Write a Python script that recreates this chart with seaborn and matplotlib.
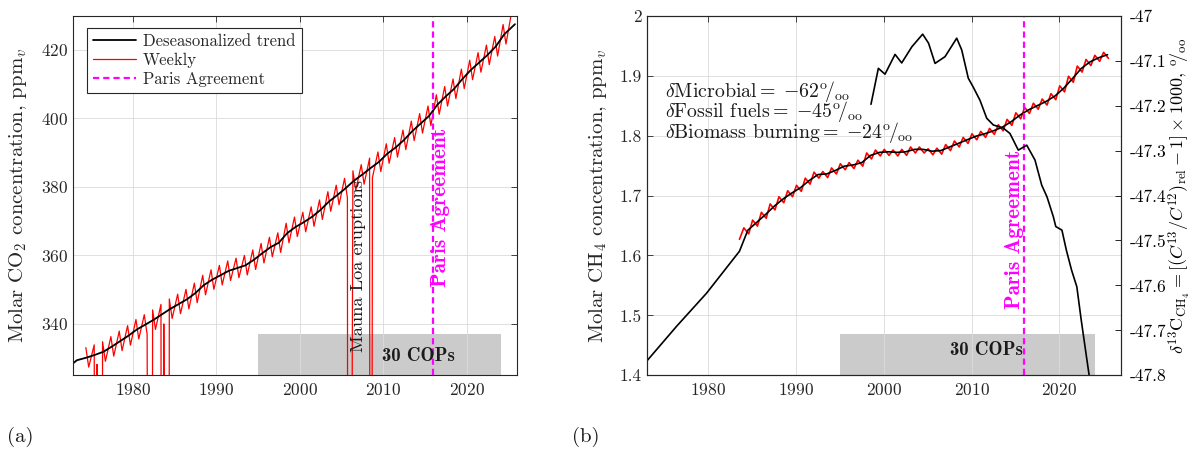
import numpy as np
import pandas as pd
import matplotlib
matplotlib.use("Agg")
import matplotlib.pyplot as plt
import seaborn as sns
from matplotlib.lines import Line2D

# ---------------- data: panel (a) CO2 ----------------
co2_trend_years = [1972.85, 1973.3, 1974.5, 1975.5, 1976.5, 1977.5, 1978.5, 1979.5, 1980.5,
                   1981.5, 1982.5, 1983.5, 1984.5, 1985.5, 1986.5, 1987.5, 1988.5, 1989.5,
                   1990.5, 1991.5, 1992.5, 1993.5, 1994.5, 1995.5, 1996.5, 1997.5, 1998.5,
                   1999.5, 2000.5, 2001.5, 2002.5, 2003.5, 2004.5, 2005.5, 2006.5, 2007.5,
                   2008.5, 2009.5, 2010.5, 2011.5, 2012.5, 2013.5, 2014.5, 2015.5, 2016.5,
                   2017.5, 2018.5, 2019.5, 2020.5, 2021.5, 2022.5, 2023.5, 2024.5, 2025.8]
co2_trend_ppm = [328.5, 329.4, 330.2, 331.0, 331.9, 333.4, 335.0, 336.6, 338.4,
                 339.8, 341.2, 342.8, 344.4, 345.8, 347.2, 349.0, 351.3, 352.9,
                 354.2, 355.5, 356.3, 357.1, 358.7, 360.6, 362.4, 363.7, 366.5,
                 368.3, 369.7, 371.3, 373.3, 375.7, 377.6, 379.6, 381.8, 383.6,
                 385.5, 387.3, 389.7, 391.5, 393.7, 396.3, 398.5, 400.7, 404.0,
                 406.4, 408.6, 411.5, 414.1, 416.3, 418.5, 421.0, 424.5, 427.5]

# weekly record: yearly maximum (May) and minimum (Sep/Oct)
co2_cycle_years = list(range(1974, 2026))
co2_peak_ppm = [333.1, 333.9, 334.8, 336.3, 337.9, 339.5, 341.3, 342.7, 344.1, 345.7,
                347.3, 348.7, 350.1, 351.9, 354.2, 355.8, 357.1, 358.4, 359.2, 360.0,
                361.6, 363.5, 365.3, 366.6, 369.4, 371.2, 372.6, 374.2, 376.2, 378.6,
                380.5, 382.5, 384.7, 386.5, 388.4, 390.2, 392.6, 394.4, 396.6, 399.2,
                401.4, 403.6, 406.9, 409.3, 411.5, 414.4, 417.0, 419.2, 421.4, 423.9,
                427.4, 430.8]
co2_trough_ppm = [327.4, 328.2, 329.1, 330.6, 332.2, 333.8, 335.6, 337.0, 338.4, 340.0,
                  341.6, 343.0, 344.4, 346.2, 348.5, 350.1, 351.4, 352.7, 353.5, 354.3,
                  355.9, 357.8, 359.6, 360.9, 363.7, 365.5, 366.9, 368.5, 370.5, 372.9,
                  374.8, 376.8, 379.0, 380.8, 382.7, 384.5, 386.9, 388.7, 390.9, 393.5,
                  395.7, 397.9, 401.2, 403.6, 405.8, 408.7, 411.3, 413.5, 415.7, 418.2,
                  421.7]
# flagged (missing) weekly values recorded as zero
co2_gap_years = [1975.68, 1975.82, 1976.33, 1982.15, 1983.55, 1984.25, 2005.85, 2008.5]
co2_gap_ppm = [0.0, 0.0, 0.0, 0.0, 0.0, 0.0, 0.0, 0.0]

paris_year = 2016.0
cop_first, cop_last = 1995.0, 2024.1

# ---------------- data: panel (b) CH4 ----------------
ch4_early_years = [1973.0, 1976.4, 1979.8, 1983.55]
ch4_early_ppm = [1.424, 1.482, 1.537, 1.607]
ch4_years = list(range(1984, 2026))
ch4_trend_ppm = [1.642, 1.655, 1.668, 1.682, 1.694, 1.704, 1.713, 1.725, 1.735, 1.736,
                 1.742, 1.749, 1.751, 1.755, 1.767, 1.772, 1.773, 1.772, 1.773, 1.777,
                 1.777, 1.774, 1.775, 1.781, 1.787, 1.793, 1.799, 1.803, 1.808, 1.814,
                 1.823, 1.834, 1.843, 1.850, 1.857, 1.866, 1.879, 1.895, 1.912, 1.923,
                 1.930, 1.935]
ch4_first_year, ch4_first_ppm = 1983.55, 1.627
ch4_peak_ppm = [1.646, 1.659, 1.672, 1.686, 1.698, 1.708, 1.717, 1.729, 1.739, 1.740,
                1.746, 1.753, 1.755, 1.759, 1.771, 1.776, 1.777, 1.776, 1.777, 1.781,
                1.781, 1.778, 1.779, 1.785, 1.791, 1.797, 1.803, 1.807, 1.812, 1.818,
                1.827, 1.838, 1.847, 1.854, 1.861, 1.870, 1.883, 1.899, 1.916, 1.927,
                1.934, 1.939]
ch4_trough_ppm = [1.636, 1.649, 1.662, 1.676, 1.688, 1.698, 1.707, 1.719, 1.729, 1.730,
                  1.736, 1.743, 1.745, 1.749, 1.761, 1.766, 1.767, 1.766, 1.767, 1.771,
                  1.771, 1.768, 1.769, 1.775, 1.781, 1.787, 1.793, 1.797, 1.802, 1.808,
                  1.817, 1.828, 1.837, 1.844, 1.851, 1.860, 1.873, 1.889, 1.906, 1.917,
                  1.924, 1.929]

d13c_years = [1998.54, 1999.38, 2000.14, 2001.28, 2002.04, 2003.2, 2004.43, 2005.1,
              2005.84, 2006.98, 2008.31, 2008.88, 2009.63, 2010.2, 2010.96, 2011.73,
              2012.48, 2013.62, 2014.38, 2015.33, 2016.29, 2017.23, 2018.0, 2018.6,
              2019.32, 2019.6, 2020.3, 2020.8, 2021.4, 2022.0, 2022.5, 2023.1, 2023.7]
d13c_permil = [-47.197, -47.117, -47.130, -47.086, -47.105, -47.069, -47.041, -47.061,
               -47.106, -47.091, -47.050, -47.076, -47.139, -47.159, -47.188, -47.228,
               -47.243, -47.250, -47.262, -47.299, -47.288, -47.321, -47.377, -47.403,
               -47.447, -47.469, -47.477, -47.521, -47.566, -47.603, -47.677, -47.759,
               -47.84]

co2_ticks = [340, 360, 380, 400, 420]
year_ticks = [1980, 1990, 2000, 2010, 2020]
ch4_ticks = [1.4, 1.5, 1.6, 1.7, 1.8, 1.9, 2.0]
ch4_tick_labels = ["1.4", "1.5", "1.6", "1.7", "1.8", "1.9", "2"]
d13c_ticks = [-47.8, -47.7, -47.6, -47.5, -47.4, -47.3, -47.2, -47.1, -47.0]
d13c_tick_labels = ["-47.8", "-47.7", "-47.6", "-47.5", "-47.4", "-47.3", "-47.2", "-47.1", "-47"]

source_labels = [r"$\delta$Microbial$=\;{-62}^{\mathrm{o}}\!/_{\mathrm{oo}}$",
                 r"$\delta$Fossil fuels$=\;{-45}^{\mathrm{o}}\!/_{\mathrm{oo}}$",
                 r"$\delta$Biomass burning$=\;{-24}^{\mathrm{o}}\!/_{\mathrm{oo}}$"]

# ---------------- style ----------------
sns.set_theme(style="white")
plt.rcParams.update({
    "font.family": ["cmr10", "DejaVu Serif"],
    "mathtext.fontset": "cm",
    "axes.unicode_minus": False,
    "axes.formatter.use_mathtext": True,
})
DARK = "0.15"
TICK = 12.5
LAB = 15

fig = plt.figure(figsize=(11.93, 4.5), dpi=100)
axL = fig.add_axes([0.0612, 0.1667, 0.3722, 0.7978])
axR = fig.add_axes([0.5426, 0.166, 0.3968, 0.799])
axR2 = axR.twinx()


def style_axes(ax, right=True):
    for s in ax.spines.values():
        s.set_color(DARK)
        s.set_linewidth(0.8)
    ax.tick_params(direction="in", top=True, right=right, length=4, width=0.6,
                   colors=DARK, labelsize=TICK)
    ax.tick_params(axis="x", pad=5)
    ax.tick_params(axis="y", pad=3.5)
    ax.grid(True, color="0.86", lw=0.6)
    ax.set_axisbelow(True)


# ---------------- panel (a) ----------------
wk = pd.DataFrame({
    "year": [y + 0.38 for y in co2_cycle_years] + [y + 0.72 for y in co2_cycle_years[:-1]]
            + co2_gap_years,
    "ppm": co2_peak_ppm + co2_trough_ppm + co2_gap_ppm,
}).sort_values("year")
sns.lineplot(data=wk, x="year", y="ppm", ax=axL, color="red", lw=0.9,
             estimator=None, sort=False, legend=False)
sns.lineplot(x=co2_trend_years, y=co2_trend_ppm, ax=axL, color="black", lw=1.3,
             estimator=None, sort=False, legend=False)
axL.axvline(paris_year, color="magenta", ls=(0, (2.8, 1.8)), lw=1.6)
axL.axvspan(cop_first, cop_last, ymin=0, ymax=0.114, facecolor="0.55", alpha=0.45,
            lw=0, zorder=0.5)
axL.set_xlim(1972.84, 2026.05)
axL.set_ylim(325.1, 429.9)
axL.set_xticks(year_ticks)
axL.set_yticks(co2_ticks)
style_axes(axL)
axL.set_xlabel("")
axL.set_ylabel(r"Molar CO$_2$ concentration, ppm$_v$", fontsize=LAB, color=DARK)
axL.yaxis.set_label_coords(-0.099, 0.5)

axL.text(2007.0, 356.9, "Mauna Loa eruptions", rotation=90, ha="center", va="center",
         fontsize=13.2, color="0.1")
axL.text(2016.9, 374.0, "Paris Agreement", rotation=90, ha="center", va="center",
         fontsize=15.3, color="magenta", family="cmb10")
axL.text(2014.2, 330.6, "30 COPs", ha="center", va="center", fontsize=13.5,
         family="cmb10", color="0.1")

handles = [Line2D([], [], color="black", lw=1.3),
           Line2D([], [], color="red", lw=0.9),
           Line2D([], [], color="magenta", lw=1.6, ls=(0, (2.8, 1.8)))]
leg = axL.legend(handles, ["Deseasonalized trend", "Weekly", "Paris Agreement"],
                 loc="upper left", bbox_to_anchor=(0.031, 0.967), borderaxespad=0,
                 fontsize=12.0, frameon=True, fancybox=False, framealpha=1,
                 edgecolor=DARK, handlelength=2.6, handletextpad=0.4,
                 labelspacing=0.22, borderpad=0.37)
leg.get_frame().set_linewidth(0.8)

# ---------------- panel (b) ----------------
ch4 = pd.DataFrame({
    "year": [ch4_first_year] + [y + 0.05 for y in ch4_years] + [y + 0.6 for y in ch4_years],
    "ppm": [ch4_first_ppm] + ch4_peak_ppm + ch4_trough_ppm,
}).sort_values("year")
sns.lineplot(data=ch4, x="year", y="ppm", ax=axR, color="red", lw=1.2,
             estimator=None, sort=False, legend=False)
sns.lineplot(x=ch4_early_years + [y + 0.5 for y in ch4_years],
             y=ch4_early_ppm + ch4_trend_ppm, ax=axR, color="black", lw=1.2,
             estimator=None, sort=False, legend=False)
axR.axvline(paris_year, color="magenta", ls=(0, (2.8, 1.8)), lw=1.6)
axR.axvspan(cop_first, cop_last, ymin=0, ymax=0.114, facecolor="0.55", alpha=0.45,
            lw=0, zorder=0.5)
axR.set_xlim(1973.05, 2027.0)
axR.set_ylim(1.4, 2.0)
axR.set_xticks(year_ticks)
axR.set_yticks(ch4_ticks)
axR.set_yticklabels(ch4_tick_labels)
style_axes(axR, right=False)
axR.tick_params(axis="y", pad=4)
axR.set_xlabel("")
axR.set_ylabel(r"Molar CH$_4$ concentration, ppm$_v$", fontsize=LAB, color=DARK)
axR.yaxis.set_label_coords(-0.081, 0.5)

sns.lineplot(x=d13c_years, y=d13c_permil, ax=axR2, color="black", lw=1.2,
             estimator=None, sort=False, legend=False)
axR2.set_ylim(-47.8, -47.0)
axR2.set_yticks(d13c_ticks)
axR2.set_yticklabels(d13c_tick_labels)
axR2.tick_params(direction="in", length=4, width=0.6, colors="black", labelsize=TICK,
                 pad=6.5)
for s in axR2.spines.values():
    s.set_color(DARK)
    s.set_linewidth(0.8)
axR2.grid(False)
axR2.set_ylabel(r"$\delta^{13}\mathrm{C}_{\mathrm{CH}_4}=[(C^{13}/C^{12})_{\mathrm{rel}}-1]\times1000$, $^{\mathrm{o}}\!/_{\mathrm{oo}}$",
                fontsize=13, color="black")
axR2.yaxis.set_label_coords(1.096, 0.5)

axR.text(1975.1, 1.8395, "\n".join(source_labels), ha="left", va="center",
         fontsize=14.3, color="0.1", linespacing=0.74)
axR.text(2014.87, 1.643, "Paris Agreement", rotation=90, ha="center", va="center",
         fontsize=15.3, color="magenta", family="cmb10")
axR.text(2011.7, 1.443, "30 COPs", ha="center", va="center", fontsize=13.5,
         family="cmb10", color="0.1")

fig.text(0.0168, 0.029, "(a)", ha="center", va="center", fontsize=LAB, color="0.1")
fig.text(0.491, 0.029, "(b)", ha="center", va="center", fontsize=LAB, color="0.1")

fig.savefig("out.png", dpi=100)
